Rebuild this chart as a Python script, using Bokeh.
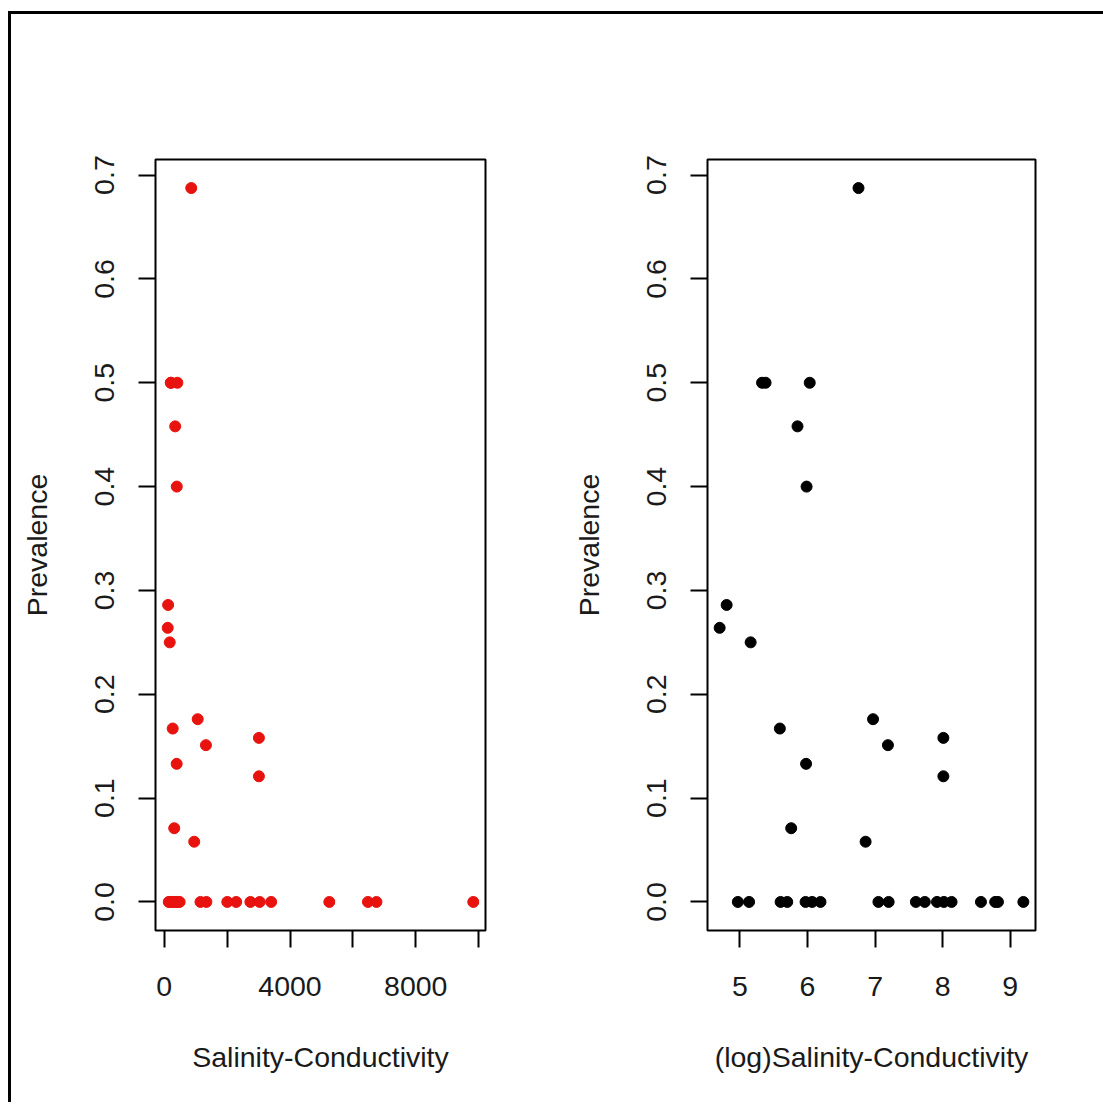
import numpy as np
from bokeh.plotting import figure
from bokeh.layouts import row
from bokeh.models import Range1d, FixedTicker, NumeralTickFormatter
from bokeh.embed import file_html
from bokeh.resources import INLINE

# ---- data ----
salinity = [122, 110, 174, 268, 395, 317, 1064, 1326, 953, 3011, 3011,
            858, 206, 217, 417, 348, 398,
            144, 170, 271, 299, 392, 432, 489, 1152, 1340, 2005, 2288,
            2740, 3035, 3400, 5250, 6480, 6750, 9830]
prevalence = [0.286, 0.264, 0.250, 0.167, 0.133, 0.071, 0.176, 0.151, 0.058, 0.158, 0.121,
              0.6875, 0.500, 0.500, 0.500, 0.458, 0.400,
              0, 0, 0, 0, 0, 0, 0, 0, 0, 0, 0,
              0, 0, 0, 0, 0, 0, 0]
x1_ticks = [0, 2000, 4000, 6000, 8000, 10000]
x1_labels = {0: "0", 2000: "", 4000: "4000", 6000: "", 8000: "8000", 10000: ""}
x2_ticks = [5, 6, 7, 8, 9]
y_ticks = [0, 0.1, 0.2, 0.3, 0.4, 0.5, 0.6, 0.7]

log_sal = list(np.log(salinity))

FONT = "Liberation Sans"
FS = "28.5px"
TXT = "#1a1a1a"


def padded(vals):
    lo, hi = min(vals), max(vals)
    d = (hi - lo) * 0.04
    return Range1d(lo - d, hi + d)


def make(xvals, color, xlabel, xticks, xlabels, bl, fw, br):
    p = figure(width=bl + fw + br, height=1088, frame_width=fw, frame_height=771,
               min_border_left=bl, min_border_right=br, min_border_top=145,
               min_border_bottom=172, output_backend="svg", toolbar_location=None,
               x_range=padded(xvals), y_range=padded(prevalence))
    p.scatter(xvals, prevalence, size=11, color=color, line_color=color)
    p.grid.visible = False
    p.background_fill_color = "white"
    p.border_fill_color = "white"
    p.outline_line_color = "black"
    p.outline_line_width = 2
    p.outline_line_alpha = 1
    for ax in (p.xaxis[0], p.yaxis[0]):
        ax.axis_line_color = None
        ax.major_tick_in = 0
        ax.major_tick_out = 17
        ax.major_tick_line_width = 2
        ax.major_tick_line_color = "black"
        ax.minor_tick_line_color = None
        ax.major_label_text_font = FONT
        ax.major_label_text_font_size = FS
        ax.major_label_text_color = TXT
        ax.axis_label_text_font = FONT
        ax.axis_label_text_font_size = FS
        ax.axis_label_text_font_style = "normal"
        ax.axis_label_text_color = TXT
    p.xaxis[0].ticker = FixedTicker(ticks=xticks)
    if xlabels:
        p.xaxis[0].major_label_overrides = xlabels
    p.xaxis[0].axis_label = xlabel
    p.xaxis[0].major_label_standoff = 29
    p.xaxis[0].axis_label_standoff = 42
    p.yaxis[0].ticker = FixedTicker(ticks=y_ticks)
    p.yaxis[0].formatter = NumeralTickFormatter(format="0.0")
    p.yaxis[0].major_label_orientation = "vertical"
    p.yaxis[0].major_label_standoff = 24
    p.yaxis[0].axis_label = "Prevalence"
    p.yaxis[0].axis_label_standoff = 40
    return p


p1 = make(salinity, "#e8120f", "Salinity-Conductivity", x1_ticks, x1_labels, 144, 330, 66)
p2 = make(log_sal, "black", "(log)Salinity-Conductivity", x2_ticks, None, 156, 328, 68)

layout = row(p1, p2, styles={"border-left": "3px solid black", "border-top": "3px solid black",
                             "margin-left": "8px", "margin-top": "11px"})

open("out.html", "w").write(file_html(layout, INLINE))
